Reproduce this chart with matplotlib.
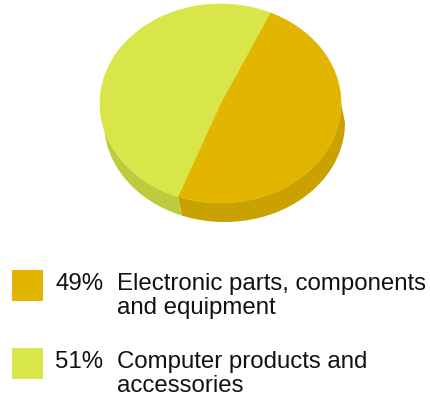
import numpy as np
import matplotlib
matplotlib.use("Agg")
import matplotlib.pyplot as plt
from matplotlib.patches import Polygon, Rectangle

# data
shares = [49, 51]
labels = ["Electronic parts, components\nand equipment",
          "Computer products and\naccessories"]
top_colors = ["#E2B500", "#D9E64A"]
side_colors = ["#C9A100", "#BFCB3E"]

plt.rcParams["font.family"] = ["Liberation Sans", "DejaVu Sans"]

fig = plt.figure(figsize=(4.30, 4.02), dpi=100)
ax = fig.add_axes([0, 0, 1, 1])
ax.set_xlim(0, 430)
ax.set_ylim(402, 0)
ax.axis("off")

# pie geometry (pixels)
cx, cy = 220.5, 104.5
a, b = 120.5, 99.5
depth, shift = 19, 4
start = 65.7


def pt(theta, dx=0, dy=0):
    t = np.radians(theta)
    return cx + a * np.cos(t) + dx, cy - b * np.sin(t) + dy


# wedge angle ranges, clockwise from start
ranges = []
ang = start
for s in shares:
    span = s / sum(shares) * 360
    ranges.append((ang - span, ang))
    ang -= span

# sides (front half only: angles -180..0)
for (lo, hi), col in zip(ranges, side_colors):
    for off in (0, -360):
        l, h = max(lo + off, -180), min(hi + off, 0)
        if l >= h:
            continue
        th = np.linspace(l, h, 80)
        top = [pt(t) for t in th]
        bot = [pt(t, shift, depth) for t in th[::-1]]
        ax.add_patch(Polygon(top + bot, closed=True, fc=col, ec="none"))

# top faces
for (lo, hi), col in zip(ranges, top_colors):
    th = np.linspace(lo, hi, 200)
    poly = [(cx, cy)] + [pt(t) for t in th]
    ax.add_patch(Polygon(poly, closed=True, fc=col, ec=col, lw=0.5))

# legend
rows = [271, 349]
fs = 17.3
for i, (s, lab) in enumerate(zip(shares, labels)):
    y0 = rows[i]
    ax.add_patch(Rectangle((12, y0), 31, 31, fc=top_colors[i], ec="none"))
    base = y0 + 19
    ax.text(55, base, f"{s}%", fontsize=fs, va="baseline", ha="left", color="#111111")
    for j, line in enumerate(lab.split("\n")):
        ax.text(117, base + j * 24.5, line, fontsize=fs, va="baseline",
                ha="left", color="#111111")

fig.savefig("out.png", dpi=100)
